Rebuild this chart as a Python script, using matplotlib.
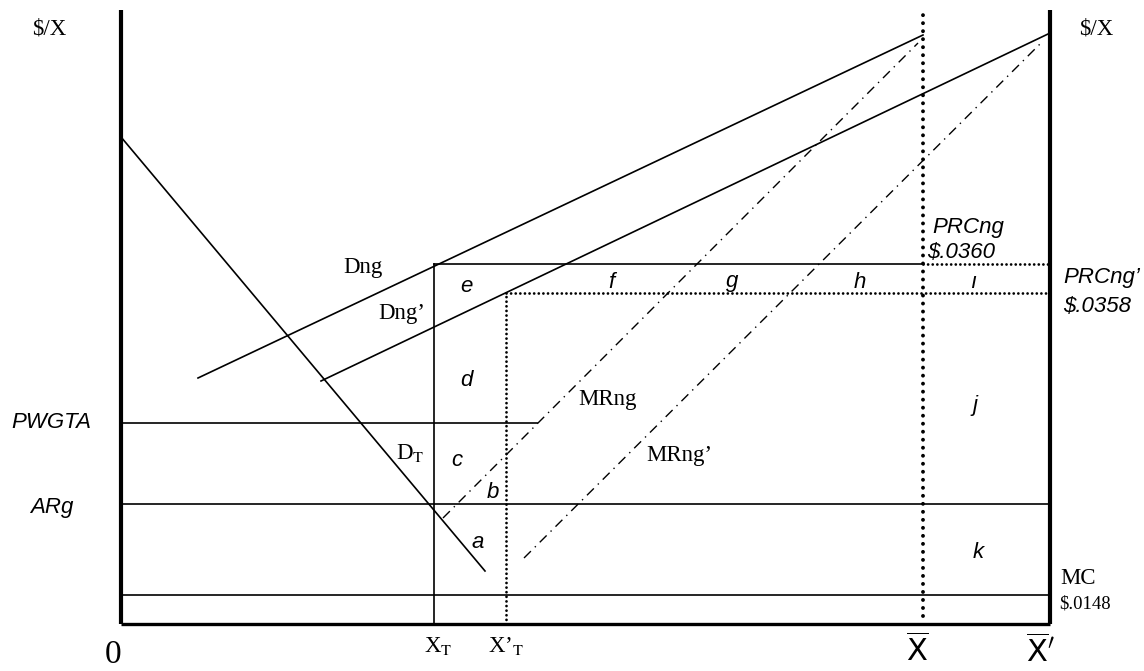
import matplotlib
matplotlib.use("Agg")
import matplotlib.pyplot as plt
from matplotlib import font_manager as fm

# ---------------- data (diagram units: origin at the axes corner, y up) ----------------
axis_top = 614
x_max = 929                      # position of right axis (X-bar')

# price levels
MC = 29
ARg = 120
PWGTA = 201
PRCng_p = 331                    # PRCng'
PRCng = 360

# quantity levels
XT = 313
XpT = 385                        # X'T
Xbar = 802
Xbar_p = 929

# curves (end points)
DT_x = [0, 364];     DT_y = [487, 53]
Dng_x = [77, 802];   Dng_y = [246, 589]
Dngp_x = [200, 927]; Dngp_y = [243, 590]
MRng_x = [322, 797]; MRng_y = [106, 581]
MRngp_x = [403, 920]; MRngp_y = [66, 581]
PWGTA_end = 416

area_labels = ["a", "b", "c", "d", "e", "f", "g", "h", "ı", "j", "k"]
area_x = [357, 372, 336, 345, 345, 490, 611, 739, 852, 854, 857]
area_y = [82, 132, 164, 244, 337, 342, 342, 342, 341, 219, 72]

# ---------------- fonts ----------------
names = {f.name for f in fm.fontManager.ttflist}
SERIF = "Liberation Serif" if "Liberation Serif" in names else "DejaVu Serif"
NARROW = "Liberation Sans Narrow" if "Liberation Sans Narrow" in names else "Liberation Sans"

fig = plt.figure(figsize=(11.44, 6.71), dpi=100)
ax = fig.add_axes([0, 0, 1, 1])
ax.set_xlim(-121, 1144 - 121)
ax.set_ylim(624 - 671, 624)
ax.axis("off")

K = "black"
thin = 1.2
dots_big = dict(color=K, lw=2.8, linestyle=(0, (0.01, 2.05)), dash_capstyle="round")
dots_small = dict(color=K, lw=2.0, linestyle=(0, (0.01, 1.65)), dash_capstyle="round")
dashdot = dict(color=K, lw=1.0, linestyle=(0, (7, 4, 1, 4)))

# axes of the diagram
ax.plot([0, 0], [0, axis_top], color=K, lw=3.0, solid_capstyle="butt")
ax.plot([x_max, x_max], [0, axis_top], color=K, lw=3.0, solid_capstyle="butt")
ax.plot([0, x_max], [0, 0], color=K, lw=2.4, solid_capstyle="butt")

# horizontal levels
ax.plot([0, x_max], [MC, MC], color=K, lw=thin)
ax.plot([0, x_max], [ARg, ARg], color=K, lw=thin)
ax.plot([0, PWGTA_end], [PWGTA, PWGTA], color=K, lw=thin)
ax.plot([XT, Xbar], [PRCng, PRCng], color=K, lw=thin)
ax.plot([Xbar, x_max], [PRCng, PRCng], **dots_small)
ax.plot([XpT, x_max], [PRCng_p, PRCng_p], **dots_small)

# verticals
ax.plot([XT, XT], [0, PRCng], color=K, lw=thin)
ax.plot([XpT, XpT], [0, PRCng_p], **dots_small)
ax.plot([Xbar, Xbar], [8, axis_top], **dots_big)

# curves
ax.plot(DT_x, DT_y, color=K, lw=thin)
ax.plot(Dng_x, Dng_y, color=K, lw=thin)
ax.plot(Dngp_x, Dngp_y, color=K, lw=thin)
ax.plot(MRng_x, MRng_y, **dashdot)
ax.plot(MRngp_x, MRngp_y, **dashdot)

# ---------------- text ----------------
serif = dict(family=SERIF, fontsize=16.5, color=K)
ital = dict(family=NARROW, style="italic", fontsize=16, color=K)

ax.text(-72, 595, "$/X", ha="center", va="center", **serif)
ax.text(975, 595, "$/X", ha="center", va="center", **serif)
ax.text(242, 357, "Dng", ha="center", va="center", **serif)
ax.text(281, 311, "Dng\u2019", ha="center", va="center", **serif)
ax.text(486, 224, "MRng", ha="center", va="center", **serif)
ax.text(558, 169, "MRng\u2019", ha="center", va="center", **serif)
ax.text(289, 171, r"D$_{\mathrm{T}}$", ha="center", va="center",
        math_fontfamily="stix", **serif)
ax.text(939, 46, "MC", ha="left", va="center", **serif)
ax.text(938, 20, "$.0148", ha="left", va="center", family=SERIF, fontsize=13.5, color=K)
ax.text(-8, -31, "0", ha="center", va="center", family=SERIF, fontsize=24, color=K)
ax.text(317, -22, r"X$_{\mathrm{T}}$", ha="center", va="center",
        math_fontfamily="stix", **serif)
ax.text(385, -22, r"X’$_{\mathrm{T}}$", ha="center", va="center",
        math_fontfamily="stix", **serif)

ax.text(796, -27, r"$\overline{\mathrm{X}}$", ha="center", va="center",
        math_fontfamily="dejavusans", fontsize=22, color=K)
ax.text(919, -28, r"$\overline{\mathrm{X}}'$", ha="center", va="center",
        math_fontfamily="dejavusans", fontsize=22, color=K)

ax.text(-70, PWGTA, "PWGTA", ha="center", va="center", **ital)
ax.text(-69, 117, "ARg", ha="center", va="center", **ital)
ax.text(811, 397, "PRCng", ha="left", va="center", **ital)
ax.text(806, 371, "$.0360", ha="left", va="center", **ital)
ax.text(942, 346, "PRCng\u2019", ha="left", va="center", **ital)
ax.text(942, 317, "$.0358", ha="left", va="center", **ital)

for lab, lx, ly in zip(area_labels, area_x, area_y):
    ax.text(lx, ly, lab, ha="center", va="center", **ital)

fig.savefig("out.png", dpi=100)
